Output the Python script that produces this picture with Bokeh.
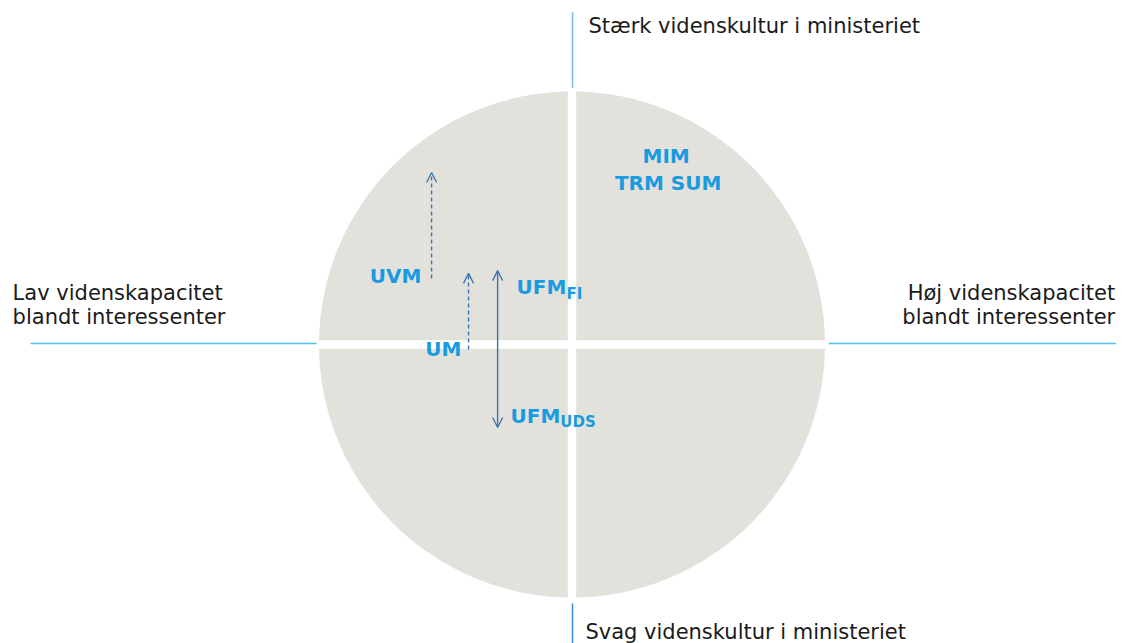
from bokeh.plotting import figure
from bokeh.models import Range1d, Arrow, OpenHead
from bokeh.core.properties import value
from bokeh.embed import file_html
from bokeh.resources import INLINE

# ---- data (unit circle coordinates: x = capacity among stakeholders, y = culture in ministry)
ministries = ["MIM", "TRM SUM"]
min_x = [0.372, 0.380]
min_y = [0.745, 0.638]

left_labels = ["UVM", "UM"]
left_x = [-0.595, -0.437]
left_y = [0.269, -0.016]

ufm_main = ["UFM", "UFM"]
ufm_x = [-0.219, -0.243]
ufm_y = [0.229, -0.281]
ufm_sub = ["FI", "UDS"]
sub_x = [-0.022, -0.046]
sub_y = [0.200, -0.305]

# arrows: movement of ministries
dash_x = [-0.555, -0.409]
dash_y0 = [0.261, -0.020]
dash_y1 = [0.680, 0.281]
solid_x = [-0.294]
solid_y0 = [0.292]
solid_y1 = [-0.328]

axis_labels_top = ["Stærk videnskultur i ministeriet"]
axis_labels_bottom = ["Svag videnskultur i ministeriet"]
axis_labels_left = ["Lav videnskapacitet", "blandt interessenter"]
axis_labels_right = ["Høj videnskapacitet", "blandt interessenter"]

S = 253.0  # px per unit
W, H = 1124, 643
cx, cy = 571.5, 344.0

p = figure(width=W, height=H, output_backend="svg", toolbar_location=None,
           x_range=Range1d(-cx / S, (W - cx) / S), y_range=Range1d(-(H - cy) / S, cy / S),
           min_border=0, background_fill_color="white", border_fill_color="white")
p.axis.visible = False
p.grid.visible = False
p.outline_line_color = None

gray = "#e3e1dc"
blue_txt = "#1a9be0"
arrow_col = "#3a74b0"
font = value("DejaVu Sans")

p.circle(x=[0], y=[0], radius=1.0, fill_color=gray, line_color=None)
g = 4.2 / S
p.quad(left=[-1.05, -g], right=[1.05, g], bottom=[-g, -1.05], top=[g, 1.05],
       fill_color="white", line_color=None)

# axis lines
p.segment(x0=[-2.14, 1.015], x1=[-1.01, 2.15], y0=[0.004, 0.004], y1=[0.004, 0.004],
          line_color="#4ec0ec", line_width=1.5)
p.segment(x0=[0.002], x1=[0.002], y0=[1.015], y1=[1.313], line_color="#7fb6e6", line_width=1.5)
p.segment(x0=[0.002], x1=[0.002], y0=[-1.023], y1=[-1.2], line_color="#3b8ee0", line_width=1.5)

# axis texts
p.text(x=[0.065], y=[1.257], text=axis_labels_top, text_font=font, text_font_size="21px",
       text_color="#1a1a1a", text_baseline="middle", text_align="left")
p.text(x=[0.053], y=[-1.136], text=axis_labels_bottom, text_font=font, text_font_size="21px",
       text_color="#1a1a1a", text_baseline="middle", text_align="left")
p.text(x=[-2.211, -2.211], y=[0.205, 0.11], text=axis_labels_left, text_font=font,
       text_font_size="21px", text_color="#1a1a1a", text_baseline="middle", text_align="left")
p.text(x=[2.147, 2.147], y=[0.205, 0.11], text=axis_labels_right, text_font=font,
       text_font_size="21px", text_color="#1a1a1a", text_baseline="middle", text_align="right")

# ministry labels
p.text(x=min_x, y=min_y, text=ministries, text_font=font, text_font_size="20px",
       text_font_style="bold", text_color=blue_txt, text_align="center", text_baseline="middle")
p.text(x=left_x, y=left_y, text=left_labels, text_font=font, text_font_size="20px",
       text_font_style="bold", text_color=blue_txt, text_align="right", text_baseline="middle")
p.text(x=ufm_x, y=ufm_y, text=ufm_main, text_font=font, text_font_size="20px",
       text_font_style="bold", text_color=blue_txt, text_align="left", text_baseline="middle")
p.text(x=sub_x, y=sub_y, text=ufm_sub, text_font=font, text_font_size="15px",
       text_font_style="bold", text_color=blue_txt, text_align="left", text_baseline="middle")

# arrows
for xx, a, b in zip(dash_x, dash_y0, dash_y1):
    p.add_layout(Arrow(end=OpenHead(size=10, line_color=arrow_col, line_width=1.3),
                       x_start=xx, y_start=a, x_end=xx, y_end=b,
                       line_color=arrow_col, line_width=1.4, line_dash="4 3"))
for xx, a, b in zip(solid_x, solid_y0, solid_y1):
    p.add_layout(Arrow(start=OpenHead(size=10, line_color=arrow_col, line_width=1.3),
                       end=OpenHead(size=10, line_color=arrow_col, line_width=1.3),
                       x_start=xx, y_start=a, x_end=xx, y_end=b,
                       line_color=arrow_col, line_width=1.4))

open("out.html", "w").write(file_html(p, INLINE))
